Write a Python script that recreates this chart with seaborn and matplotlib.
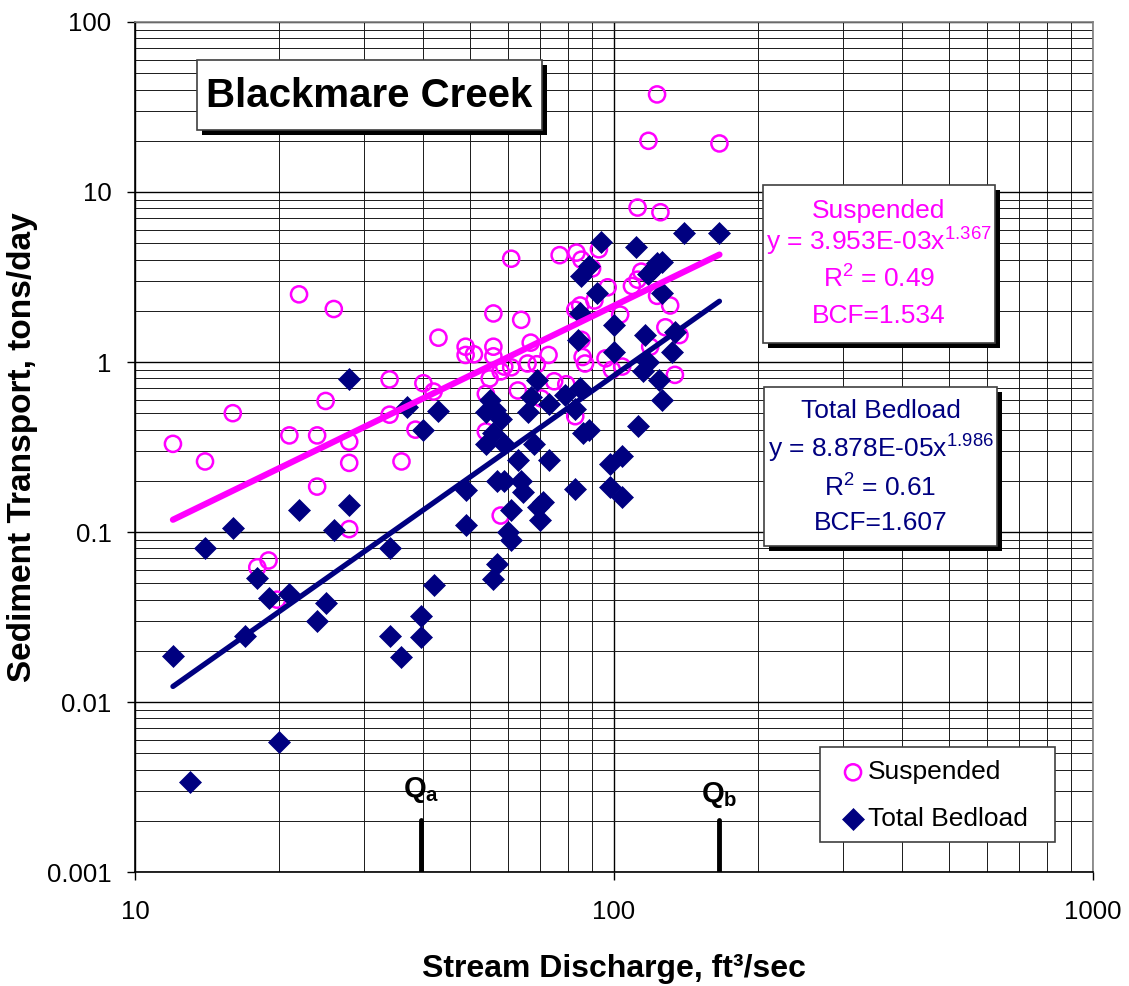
'''
Blackmare Creek sediment transport vs discharge (log-log)
'''
import numpy as np
import pandas as pd
import matplotlib.pyplot as plt
import matplotlib.ticker as mticker
from matplotlib.patches import Rectangle
import seaborn as sns

# Suspended load samples: discharge (ft3/sec) and transport (tons/day)
suspQ = [12, 14, 16, 18, 19, 19.8, 21, 22, 24, 24,
         25, 26, 28, 28, 28, 34, 34, 36, 38.5, 40,
         42, 43, 49, 49, 51, 54, 54, 55, 56, 56,
         56, 58, 58, 59, 61, 61, 63, 64, 66, 67,
         69, 70.5, 73, 75, 77, 79.5, 83, 83, 83.5, 85,
         85.5, 85.5, 86, 87, 90, 91, 93, 96, 97, 99,
         103, 104, 109, 112, 112, 114, 118, 119, 123, 123,
         125, 128, 131, 134, 137, 166]
suspLoad = [0.33, 0.26, 0.50, 0.062, 0.068, 0.040, 0.37, 2.5, 0.37, 0.185,
            0.59, 2.05, 0.34, 0.255, 0.104, 0.79, 0.49, 0.26, 0.40, 0.75,
            0.67, 1.39, 1.23, 1.1, 1.11, 0.65, 0.39, 0.80, 1.93, 1.23,
            1.08, 0.88, 0.125, 0.94, 0.93, 4.05, 0.68, 1.77, 0.98, 1.3,
            0.97, 0.61, 1.1, 0.77, 4.25, 0.74, 2.03, 0.48, 4.4, 2.15,
            4.0, 1.35, 1.07, 0.98, 3.55, 2.3, 4.6, 1.05, 2.75, 0.9,
            1.9, 0.94, 2.8, 3.05, 8.1, 3.4, 20, 1.23, 37.5, 2.45,
            7.6, 1.6, 2.15, 0.84, 1.44, 19.3]

# Total bedload samples
bedQ = [12, 13, 14, 16, 17, 18, 19, 20, 21, 22,
        24, 25, 26, 28, 28, 34, 34, 36, 37, 39.5,
        39.5, 40, 42, 43, 49, 49, 54, 54, 55, 56,
        56, 56.5, 57, 57, 58, 59, 59, 60, 61, 61,
        63, 64, 64.5, 66, 67, 68, 69, 69.5, 70, 71,
        73, 73, 79, 83, 83, 84, 85, 85, 85.5, 86,
        88.5, 88.5, 92, 94, 98, 98, 100, 100, 104, 104,
        111, 112, 115, 116, 118, 118, 121, 123, 126, 124,
        126, 126, 132, 134, 140, 166]
bedLoad = [0.0187, 0.0034, 0.08, 0.105, 0.0245, 0.054, 0.041, 0.0058, 0.043, 0.135,
           0.030, 0.038, 0.103, 0.79, 0.144, 0.08, 0.0245, 0.0183, 0.54, 0.032,
           0.024, 0.40, 0.049, 0.515, 0.177, 0.11, 0.51, 0.33, 0.60, 0.38,
           0.053, 0.52, 0.2, 0.065, 0.46, 0.2, 0.33, 0.1, 0.135, 0.09,
           0.265, 0.2, 0.173, 0.51, 0.62, 0.33, 0.78, 0.14, 0.118, 0.15,
           0.57, 0.265, 0.64, 0.53, 0.178, 1.35, 0.70, 1.93, 3.2, 0.38,
           0.40, 3.65, 2.55, 5.1, 0.25, 0.185, 1.15, 1.65, 0.28, 0.16,
           4.75, 0.42, 0.89, 1.44, 1.0, 3.3, 3.55, 3.8, 3.85, 0.78,
           0.6, 2.55, 1.15, 1.5, 5.7, 5.7]

# power law fits y = a*x^b
suspCoef, suspExp = 3.953e-3, 1.367
bedCoef, bedExp = 8.878e-5, 1.986

# reference discharges
Qa = 39.5
Qb = 166

xTicks = [10, 100, 1000]
xTickLabels = ['10', '100', '1000']
yTicks = [0.001, 0.01, 0.1, 1, 10, 100]
yTickLabels = ['0.001', '0.01', '0.1', '1', '10', '100']

PINK = '#FF00FF'
NAVY = '#000080'

sns.set_style('white')
plt.rcParams['font.family'] = ['Liberation Sans', 'DejaVu Sans']
plt.rcParams['mathtext.fontset'] = 'custom'
plt.rcParams['mathtext.rm'] = 'Liberation Sans'
plt.rcParams['mathtext.it'] = 'Liberation Sans:italic'
plt.rcParams['mathtext.bf'] = 'Liberation Sans:bold'
plt.rcParams['text.color'] = 'black'
plt.rcParams['axes.labelcolor'] = 'black'
plt.rcParams['xtick.color'] = 'black'
plt.rcParams['ytick.color'] = 'black'

dfSusp = pd.DataFrame({'Q': suspQ, 'Load': suspLoad})
dfBed = pd.DataFrame({'Q': bedQ, 'Load': bedLoad})

fig = plt.figure(figsize=(11.29, 9.86), dpi=100)
ax = fig.add_axes([0.1196, 0.1156, 0.8485, 0.8621])
ax.set_xscale('log')
ax.set_yscale('log')
ax.set_xlim(10, 1000)
ax.set_ylim(0.001, 100)

#Grid, major and minor like the spreadsheet
ax.grid(True, which='major', color='black', lw=1.0, zorder=0)
ax.grid(True, which='minor', color='#1a1a1a', lw=0.7, zorder=0)
ax.xaxis.set_minor_locator(mticker.LogLocator(base=10, subs=np.arange(2, 10)))
ax.yaxis.set_minor_locator(mticker.LogLocator(base=10, subs=np.arange(2, 10), numticks=20))
ax.xaxis.set_minor_formatter(mticker.NullFormatter())
ax.yaxis.set_minor_formatter(mticker.NullFormatter())
ax.set_axisbelow(True)

sns.scatterplot(x='Q', y='Load', data=dfSusp, marker='o', s=135, color=PINK,
                facecolor='none', edgecolor=PINK, linewidth=1.8, label='Suspended', ax=ax, zorder=3)
sns.scatterplot(x='Q', y='Load', data=dfBed, marker='D', s=125, color=NAVY,
                edgecolor=NAVY, linewidth=0.5, label='Total Bedload', ax=ax, zorder=4)

#Trend lines over the range of the samples
qs = np.geomspace(min(suspQ), max(suspQ), 50)
ax.plot(qs, suspCoef * qs**suspExp, color=PINK, lw=4.5, solid_capstyle='round', zorder=5)
qb = np.geomspace(min(bedQ), max(bedQ), 50)
ax.plot(qb, bedCoef * qb**bedExp, color=NAVY, lw=3.8, solid_capstyle='round', zorder=5)

#Qa / Qb markers
for q, lab, yl in [(Qa, r'$\mathbf{Q_a}$', 0.088), (Qb, r'$\mathbf{Q_b}$', 0.082)]:
    ax.axvline(q, ymin=0, ymax=0.061, color='black', lw=3.5, solid_capstyle='round', zorder=5)
    ax.text(q, yl, lab, transform=ax.get_xaxis_transform(), ha='center', va='baseline',
            fontsize=21, zorder=6)

ax.set_xticks(xTicks)
ax.set_xticklabels(xTickLabels)
ax.set_yticks(yTicks)
ax.set_yticklabels(yTickLabels)
ax.tick_params(axis='both', which='major', direction='out', length=6, width=1,
               labelsize=18.5, color='black', bottom=True, left=True)
ax.tick_params(axis='x', which='major', pad=14)
ax.tick_params(axis='y', which='major', pad=11)
ax.tick_params(which='minor', length=0)

for side in ['left', 'bottom']:
    ax.spines[side].set_color('black')
    ax.spines[side].set_linewidth(1.2)
for side in ['top', 'right']:
    ax.spines[side].set_color('#808080')
    ax.spines[side].set_linewidth(1.2)

ax.set_xlabel('Stream Discharge, ft³/sec', fontsize=23, fontweight='bold')
ax.set_ylabel('Sediment Transport, tons/day', fontsize=24, fontweight='bold')
ax.xaxis.set_label_coords(0.5, -0.096)
ax.yaxis.set_label_coords(-0.101, 0.5)


def shadowBox(x0, y0, x1, y1, shadow=True):
    dx, dy = 5 / 958, 5 / 850
    if shadow:
        ax.add_patch(Rectangle((x0 + dx, y0 - dy), x1 - x0, y1 - y0, transform=ax.transAxes,
                               facecolor='black', edgecolor='black', lw=0, zorder=7))
    ax.add_patch(Rectangle((x0, y0), x1 - x0, y1 - y0, transform=ax.transAxes,
                           facecolor='white', edgecolor='#404040', lw=1.2, zorder=8))


#Title box
shadowBox(0.0647, 0.8729, 0.4248, 0.9553)
ax.text(0.2448, 0.8996, 'Blackmare Creek', transform=ax.transAxes, ha='center', va='baseline',
        fontsize=29, fontweight='bold', zorder=9)

#Equation boxes
shadowBox(0.6555, 0.6224, 0.8977, 0.8082)
suspLines = ['Suspended', r'y = 3.953E-03x$^{1.367}$', 'R$^{2}$ = 0.49', 'BCF=1.534']
for txt, yy in zip(suspLines, [0.7694, 0.7306, 0.6871, 0.6459]):
    ax.text(0.7766, yy, txt, transform=ax.transAxes, ha='center', va='baseline',
            fontsize=19, color=PINK, zorder=9)

shadowBox(0.6566, 0.3835, 0.8998, 0.5706)
bedLines = ['Total Bedload', r'y = 8.878E-05x$^{1.986}$', 'R$^{2}$ = 0.61', 'BCF=1.607']
for txt, yy in zip(bedLines, [0.5341, 0.4871, 0.4412, 0.4024]):
    ax.text(0.7782, yy, txt, transform=ax.transAxes, ha='center', va='baseline',
            fontsize=19, color=NAVY, zorder=9)

#Legend: plain box plus frameless legend inside it
shadowBox(0.715, 0.0353, 0.960, 0.147, shadow=False)
handles, labels = ax.get_legend_handles_labels()
leg = ax.legend(handles[:2], ['Suspended', 'Total Bedload'], loc='upper left',
                bbox_to_anchor=(0.7385, 0.1315), fontsize=19, frameon=False,
                borderpad=0, labelspacing=0.85, handlelength=0.8, handletextpad=0.17,
                borderaxespad=0)
leg.set_zorder(9)

plt.savefig('out.png', dpi=100)
